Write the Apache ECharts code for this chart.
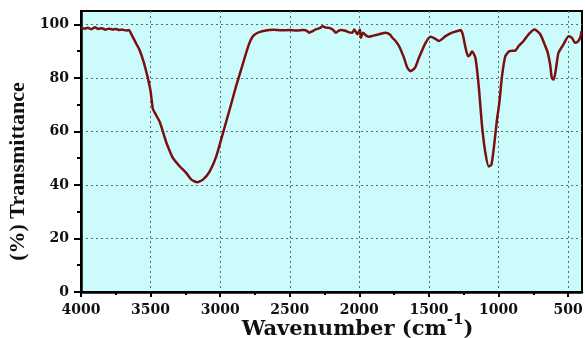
<!DOCTYPE html>
<html>
<head>
<meta charset="utf-8">
<script src="https://cdn.jsdelivr.net/npm/echarts@6/dist/echarts.min.js"></script>
<style>
  html, body { margin: 0; padding: 0; background: #ffffff; }
  #chart { width: 585px; height: 338px; }
</style>
</head>
<body>
<div id="chart"></div>
<script>
// FTIR spectrum: wavenumber (cm-1) against transmittance (%)
const wavenumbers = [
  4000, 3975, 3950, 3925, 3900, 3875, 3850, 3825, 3800, 3775, 3750, 3725, 3700, 3675, 3655,
  3640, 3600, 3580, 3550, 3520, 3500, 3484, 3470, 3434, 3400, 3386, 3339, 3291, 3243, 3207,
  3164, 3124, 3076, 3028, 2980, 2933, 2885, 2850, 2813, 2790, 2766, 2740, 2718, 2680, 2622,
  2560, 2503, 2450, 2400, 2383, 2360, 2335, 2312, 2285, 2264, 2240, 2216, 2190, 2168, 2150,
  2133, 2100, 2073, 2050, 2037, 2014, 1996, 1989, 1973, 1950, 1930, 1900, 1858, 1810, 1780,
  1763, 1740, 1715, 1679, 1655, 1631, 1600, 1572, 1524, 1488, 1460, 1428, 1380, 1333, 1290,
  1273, 1257, 1237, 1219, 1205, 1190, 1166, 1142, 1118, 1094, 1070, 1051, 1035, 1011, 994,
  975, 951, 922, 879, 855, 820, 784, 741, 700, 664, 646, 629, 617, 603, 588,
  569, 533, 497, 473, 449, 426, 410, 404
];
const transmittance = [
  98.8, 98.4, 98.7, 98.2, 98.9, 98.3, 98.6, 98.0, 98.4, 98.1, 98.3, 97.9, 98.0, 97.7, 97.9,
  96.5, 92.5, 90.5, 86.0, 80.0, 75.0, 68.5, 67.0, 63.5, 58.0, 55.7, 50.0, 47.0, 44.4, 42.0,
  41.0, 42.0, 45.0, 50.7, 59.4, 68.0, 77.0, 83.0, 89.4, 93.0, 95.5, 96.6, 97.1, 97.6, 98.0,
  97.8, 97.9, 97.7, 97.9, 97.8, 96.9, 97.5, 98.1, 98.6, 99.3, 98.8, 98.7, 98.0, 96.9, 97.6,
  97.9, 97.6, 97.0, 96.9, 98.1, 96.3, 98.1, 95.0, 96.9, 95.8, 95.4, 95.8, 96.3, 96.9, 96.2,
  95.0, 93.8, 91.9, 87.5, 83.8, 82.5, 83.8, 87.5, 93.1, 95.4, 94.8, 93.8, 95.6, 96.9, 97.6,
  97.9, 96.3, 91.3, 88.1, 88.6, 90.0, 87.5, 76.9, 61.9, 51.9, 46.9, 47.6, 53.2, 64.4, 70.7,
  80.6, 88.1, 90.0, 90.2, 91.9, 93.8, 96.3, 98.1, 96.3, 91.9, 89.4, 85.0, 80.0, 79.4, 83.1,
  89.4, 92.5, 95.6, 95.0, 93.1, 93.8, 95.5, 97.5
];

// Tick positions and labels
const xMajorTicks = [4000, 3500, 3000, 2500, 2000, 1500, 1000, 500];
const xMinorTicks = [3750, 3250, 2750, 2250, 1750, 1250, 750];
const yMajorTicks = [0, 20, 40, 60, 80, 100];
const yMinorTicks = [10, 30, 50, 70, 90];

// Wavenumber decreases to the right: plot on a negated value axis
const neg = v => -v;
const points = wavenumbers.map((w, i) => [neg(w), transmittance[i]]);

const X_MIN = -4000, X_MAX = -400, Y_MIN = 0, Y_MAX = 105;
const ink = '#111111';
const tickFont = { fontFamily: 'DejaVu Serif', fontWeight: 'bold', fontSize: 14, color: ink };
const gridDots = { type: [2, 3], color: '#5c6c72', width: 1 };

const chart = echarts.init(document.getElementById('chart'), null, { renderer: 'canvas' });
chart.setOption({
  animation: false,
  backgroundColor: '#ffffff',
  grid: {
    left: 81, right: 3, top: 11, bottom: 46,
    outerBoundsMode: 'none',
    show: true, backgroundColor: '#ccfbfc', borderColor: '#000', borderWidth: 2
  },
  xAxis: [
    {
      type: 'value', position: 'bottom', min: X_MIN, max: X_MAX, interval: 250,
      axisLine: { show: true, onZero: false, lineStyle: { color: '#000', width: 2.5 } },
      axisTick: { show: true, customValues: xMajorTicks.map(neg), length: 5, lineStyle: { color: '#000', width: 2 } },
      axisLabel: Object.assign({ customValues: xMajorTicks.map(neg), formatter: v => String(-v), margin: 11 }, tickFont),
      splitLine: { show: true, lineStyle: gridDots },
      name: '{t|Wavenumber (cm}{s|-1}{t|)}',
      nameLocation: 'middle', nameGap: 21, nameMoveOverlap: false,
      nameTextStyle: {
        padding: [0, 0, 0, 52],
        rich: {
          t: { fontFamily: 'DejaVu Serif', fontWeight: 'bold', fontSize: 21, color: ink, lineHeight: 27, verticalAlign: 'bottom' },
          s: { fontFamily: 'DejaVu Serif', fontWeight: 'bold', fontSize: 15, color: ink, lineHeight: 27, verticalAlign: 'top' }
        }
      }
    },
    {
      type: 'value', position: 'bottom', min: X_MIN, max: X_MAX, interval: 250,
      axisLine: { show: false, onZero: false },
      axisTick: { show: true, customValues: xMinorTicks.map(neg), length: 3, lineStyle: { color: '#000', width: 2 } },
      axisLabel: { show: false },
      splitLine: { show: false }
    }
  ],
  yAxis: [
    {
      type: 'value', position: 'left', min: Y_MIN, max: Y_MAX, interval: 10,
      axisLine: { show: true, onZero: false, lineStyle: { color: '#000', width: 2.5 } },
      axisTick: { show: true, customValues: yMajorTicks, length: 7, lineStyle: { color: '#000', width: 2 } },
      axisLabel: Object.assign({ customValues: yMajorTicks, margin: 12 }, tickFont),
      splitLine: { show: true, lineStyle: gridDots },
      name: '(%) Transmittance',
      nameLocation: 'middle', nameGap: 48,
      nameTextStyle: {
        fontFamily: 'Liberation Serif', fontWeight: 'bold', fontSize: 22, color: ink,
        padding: [0, 40, 0, 0]
      }
    },
    {
      type: 'value', position: 'left', min: Y_MIN, max: Y_MAX, interval: 10,
      axisLine: { show: false, onZero: false },
      axisTick: { show: true, customValues: yMinorTicks, length: 4, lineStyle: { color: '#000', width: 2 } },
      axisLabel: { show: false },
      splitLine: { show: false }
    }
  ],
  series: [
    {
      type: 'line', xAxisIndex: 0, yAxisIndex: 0,
      data: points,
      showSymbol: false, smooth: 0.2,
      lineStyle: { color: '#7a0f0f', width: 2.5 },
      z: 5
    }
  ]
});
</script>
</body>
</html>
